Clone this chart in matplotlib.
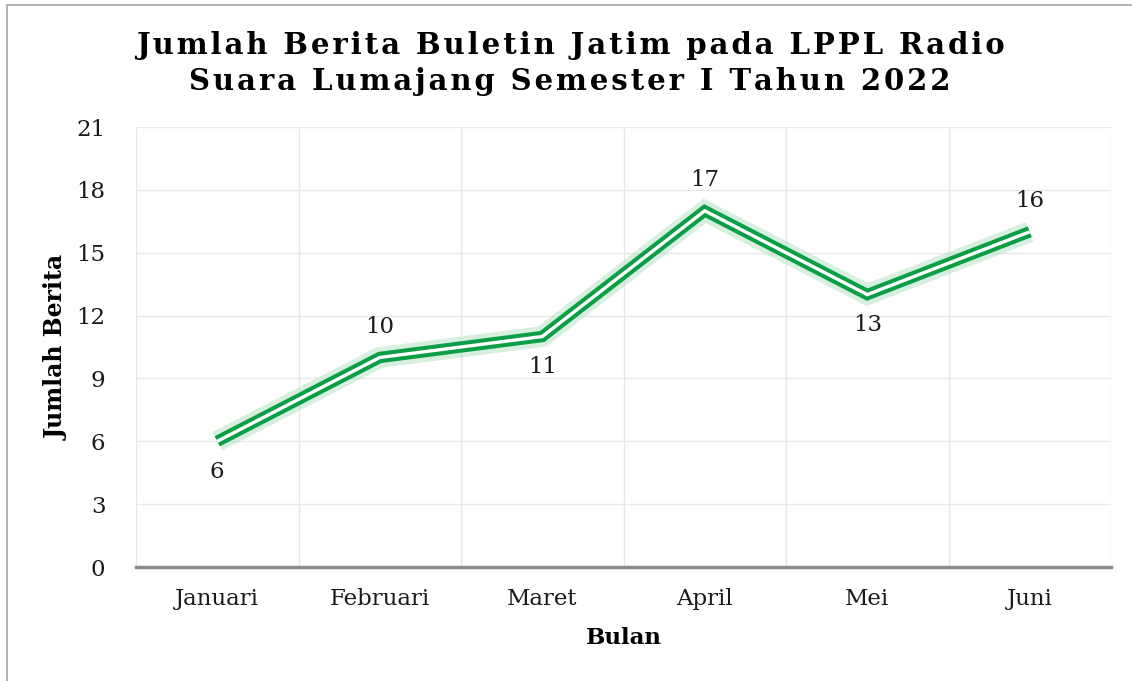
import matplotlib.pyplot as plt
from matplotlib.patches import Rectangle

bulan = ['Januari', 'Februari', 'Maret', 'April', 'Mei', 'Juni']
jumlah = [6, 10, 11, 17, 13, 16]
label_pos = ['below', 'above', 'below', 'above', 'below', 'above']
yticks = [0, 3, 6, 9, 12, 15, 18, 21]

title_lines = ['Jumlah Berita Buletin Jatim pada LPPL Radio',
               'Suara Lumajang Semester I Tahun 2022']

plt.rcParams['font.family'] = ['DejaVu Serif']

fig = plt.figure(figsize=(11.32, 6.81), dpi=100)
W, H = 1132, 681

# chart border (only left/top visible in the crop)
fig.patches.append(Rectangle((7 / W, -0.1), 1.2, (H - 5) / H + 0.1, transform=fig.transFigure,
                             fill=False, edgecolor='#a6a6a6', linewidth=1.2))

ax = fig.add_axes([136 / W, (H - 567) / H, 975 / W, 440 / H])
x = list(range(len(bulan)))

# glow + double line
ax.plot(x, jumlah, color='#b5e2c4', lw=15, alpha=0.55, solid_joinstyle='miter',
        solid_capstyle='butt', zorder=2)
ax.plot(x, jumlah, color='#0c9e44', lw=8.2, solid_joinstyle='miter', solid_capstyle='butt', zorder=3)
ax.plot(x, jumlah, color='white', lw=2.4, solid_joinstyle='miter', solid_capstyle='butt', zorder=4)

for xi, v, pos in zip(x, jumlah, label_pos):
    off = 22 if pos == 'above' else -22
    ax.annotate(str(v), (xi, v), xytext=(0, off), textcoords='offset points',
                ha='center', va='center', fontsize=16.5, color='#1a1a1a')

ax.set_xlim(-0.5, len(bulan) - 0.5)
ax.set_ylim(0, 21)
ax.set_yticks(yticks)
ax.set_xticks(x)
ax.set_xticklabels(bulan)
ax.set_xticks([i - 0.5 for i in range(len(bulan) + 1)], minor=True)
ax.tick_params(axis='both', which='both', length=0, labelsize=16.5, colors='#1a1a1a')
ax.tick_params(axis='x', pad=15)
ax.tick_params(axis='y', pad=22)
ax.grid(True, axis='y', which='major', color='#e8e8e8', lw=1)
ax.grid(True, axis='x', which='minor', color='#e8e8e8', lw=1)
ax.set_axisbelow(True)
for s in ['top', 'right', 'left']:
    ax.spines[s].set_visible(False)
ax.spines['bottom'].set_color('#8c8c8c')
ax.spines['bottom'].set_linewidth(2.5)
ax.spines['bottom'].set_zorder(5)

ax.set_xlabel('Bulan', fontsize=16.5, fontweight='bold')
ax.xaxis.set_label_coords(0.5, -(638 - 567) / 440)
ax.set_ylabel('Jumlah Berita', fontsize=17, fontweight='bold')
ax.yaxis.set_label_coords(-(136 - 57) / 975, 0.5)
ax.yaxis.label.set_va('center')
ax.xaxis.label.set_va('center')

# spaced title
def spaced(s):
    return '\u200a'.join(s)

fig.text(570 / W, 1 - 46 / H, spaced(title_lines[0]), ha='center', va='center',
         fontsize=21, fontweight='bold', color='black')
fig.text(570 / W, 1 - 81 / H, spaced(title_lines[1]), ha='center', va='center',
         fontsize=21, fontweight='bold', color='black')

fig.savefig('out.png', dpi=100, facecolor='white')
